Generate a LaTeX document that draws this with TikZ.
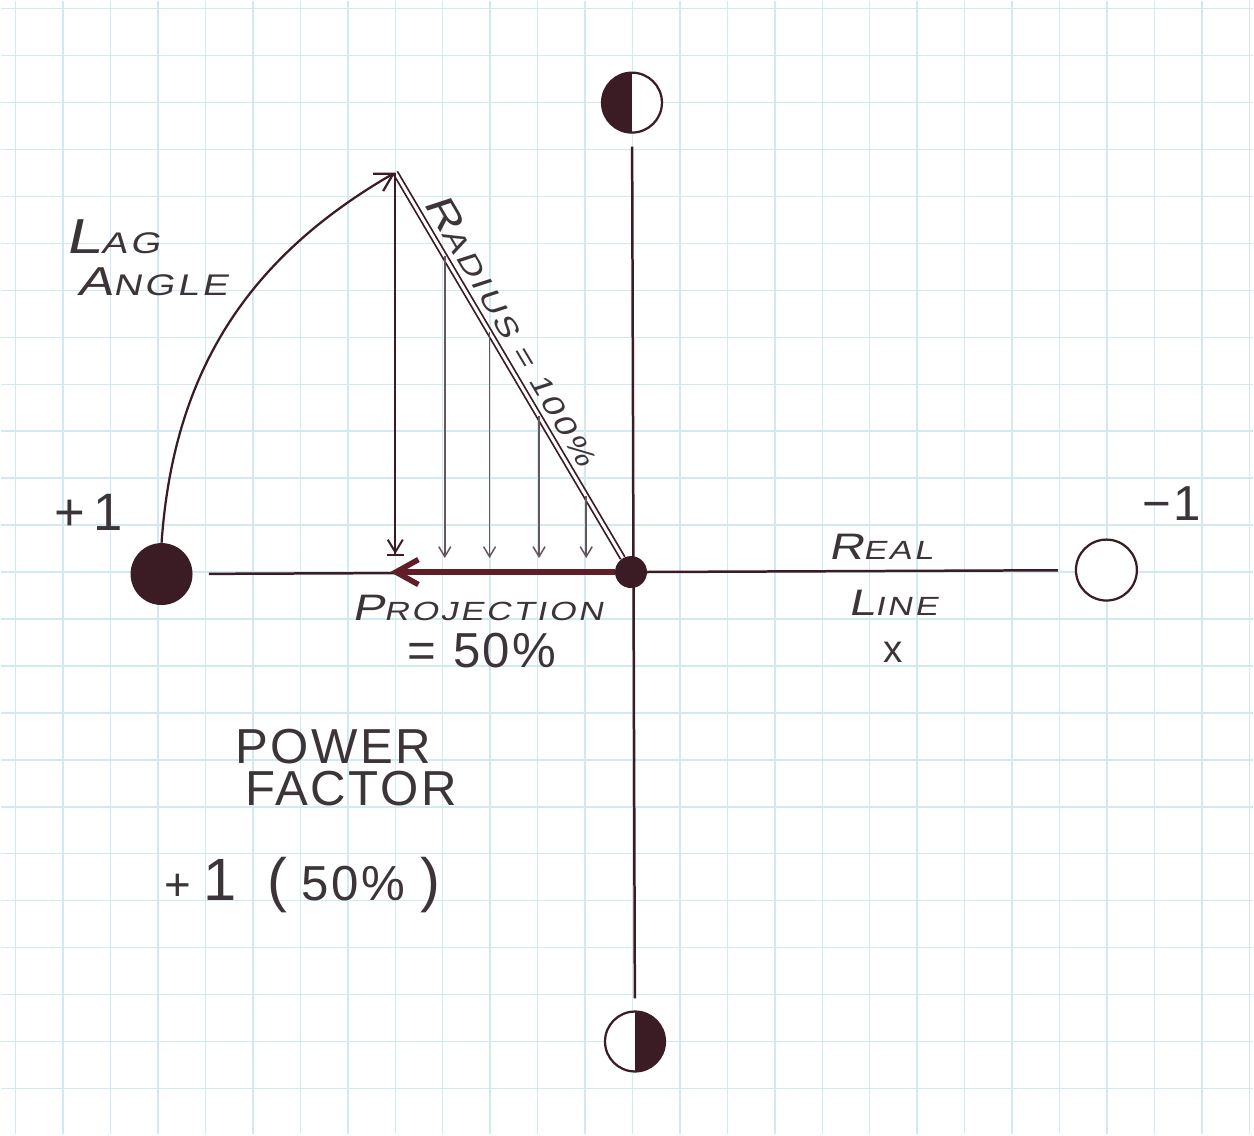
\documentclass[tikz,border=0pt]{standalone}
\usepackage{fontspec}
\setmainfont{Liberation Sans}
\newfontfamily\handfont[LetterSpace=5]{Liberation Sans}
\newfontfamily\slantfont[FakeSlant=0.22,FakeStretch=1.3,LetterSpace=10]{Liberation Sans}
\usetikzlibrary{arrows.meta}
\definecolor{ink}{RGB}{60,28,36}
\definecolor{redink}{RGB}{96,30,40}
\definecolor{pencil}{RGB}{60,52,56}
\definecolor{thinink}{RGB}{100,88,94}
\definecolor{gridblue}{RGB}{208,234,240}
\newcommand\lowcaps[1]{{\fontsize{15}{18}\selectfont #1}}
\begin{document}
\begin{tikzpicture}[x=0.2mm,y=-0.2mm,>={Straight Barb[length=3.5mm,width=4mm]},
  every node/.style={inner sep=0pt,text=pencil},
  dot/.style={circle,fill=ink,draw=none,minimum size=#1},
  half/.style={circle,draw=ink,line width=0.45mm,fill=white,minimum size=12mm},
  tag/.style={font=\slantfont\fontsize{21}{24}\selectfont},
  big/.style={font=\handfont\fontsize{28}{32}\selectfont}]
% graph paper
\fill[white] (0,0) rectangle (1254,1135);
\foreach \k in {0,...,26} \draw[gridblue,line width=0.3mm] (15+47.5*\k,0) -- (15+47.5*\k,1135);
\foreach \k in {0,...,23} \draw[gridblue,line width=0.3mm] (0,8+47*\k) -- (1254,8+47*\k);
\useasboundingbox (0,0) rectangle (1254,1135);
% points on the axes
\node[dot=6.4mm] (o) at (631,572) {};
\node[dot=12.4mm] (plus) at (161,574) {};
\node[circle,draw=ink,line width=0.45mm,fill=white,minimum size=12.2mm] (minus) at (1107,570) {};
\node[half,path picture={\fill[ink] (path picture bounding box.south west) rectangle (path picture bounding box.north);}] (top) at (632,102) {};
\node[half,path picture={\fill[ink] (path picture bounding box.south) rectangle (path picture bounding box.north east);}] (bot) at (635,1042) {};
\coordinate (tip) at (395,172);
\coordinate (proj) at (390,572);
% axes
\draw[ink,line width=0.5mm,shorten <=2.6mm,shorten >=2.4mm] (top) -- (bot);
\draw[ink,line width=0.5mm,shorten <=3.2mm,shorten >=3.4mm] (plus) -- (minus);
% radius and projection
\draw[redink,line width=1.1mm,->,>={Straight Barb[length=4.5mm,width=5mm]}] (o) -- (proj);
\draw[ink,line width=0.35mm,double=white,double distance=0.6mm] (o) -- (tip);
\draw[ink,line width=0.4mm,-{Straight Barb[length=2.5mm,width=3mm]Bar[width=3.5mm]},shorten >=3.2mm] (tip) -- (tip |- proj);
\foreach \t [count=\i] in {0.21,0.40,0.61,0.81}
  \path (tip) -- coordinate[pos=\t] (r\i) (o.center);
\foreach \i in {1,...,4}
  \draw[thinink,line width=0.3mm,-{Straight Barb[length=2mm,width=2.4mm]},shorten >=2.8mm] (r\i) -- (r\i |- proj);
% lag angle
\draw[ink,line width=0.45mm,->] (plus.north) to[out=86,in=210] (tip);
% labels
\node[font=\slantfont\fontsize{28}{30}\selectfont] (lag) at (112,236) {L{\fontsize{17}{20}\selectfont AG}};
\node[tag,font=\slantfont\fontsize{23}{26}\selectfont] (angle) at (152,281) {A{\fontsize{17}{20}\selectfont NGLE}};
\node[big,font=\handfont\fontsize{30}{32}\selectfont] (pone) at (88,512) {+\,1};
\node[big] (mone) at (1172,503) {−1};
\path (tip) -- node[tag,font=\slantfont\fontsize{22}{25}\selectfont,sloped,above=1.6mm,pos=0.42] (rad)
  {R{\fontsize{16}{19}\selectfont ADIUS = 100\%}} (o.center);
\node[tag] (projtxt) at (477,608) {P\lowcaps{ROJECTION}};
\node[big] (pct) at (482,651) {=\,\,50\%};
\node[tag] (real) at (881,547) {R\lowcaps{EAL}};
\node[tag] (line) at (893,603) {L\lowcaps{INE}};
\node[font=\handfont\fontsize{22}{24}\selectfont] (xlbl) at (893,652) {x};
\node[big] (power) at (333,747) {POWER};
\node[big] (factor) at (351,789) {FACTOR};
\node[font=\handfont\fontsize{34}{36}\selectfont] (pf) at (302,885)
  {{\fontsize{26}{28}\selectfont +}\hspace{2.5mm}1\hspace{6mm}(\hspace{3mm}{\fontsize{28}{30}\selectfont 50\%}\hspace{3mm})};
\end{tikzpicture}
\end{document}
